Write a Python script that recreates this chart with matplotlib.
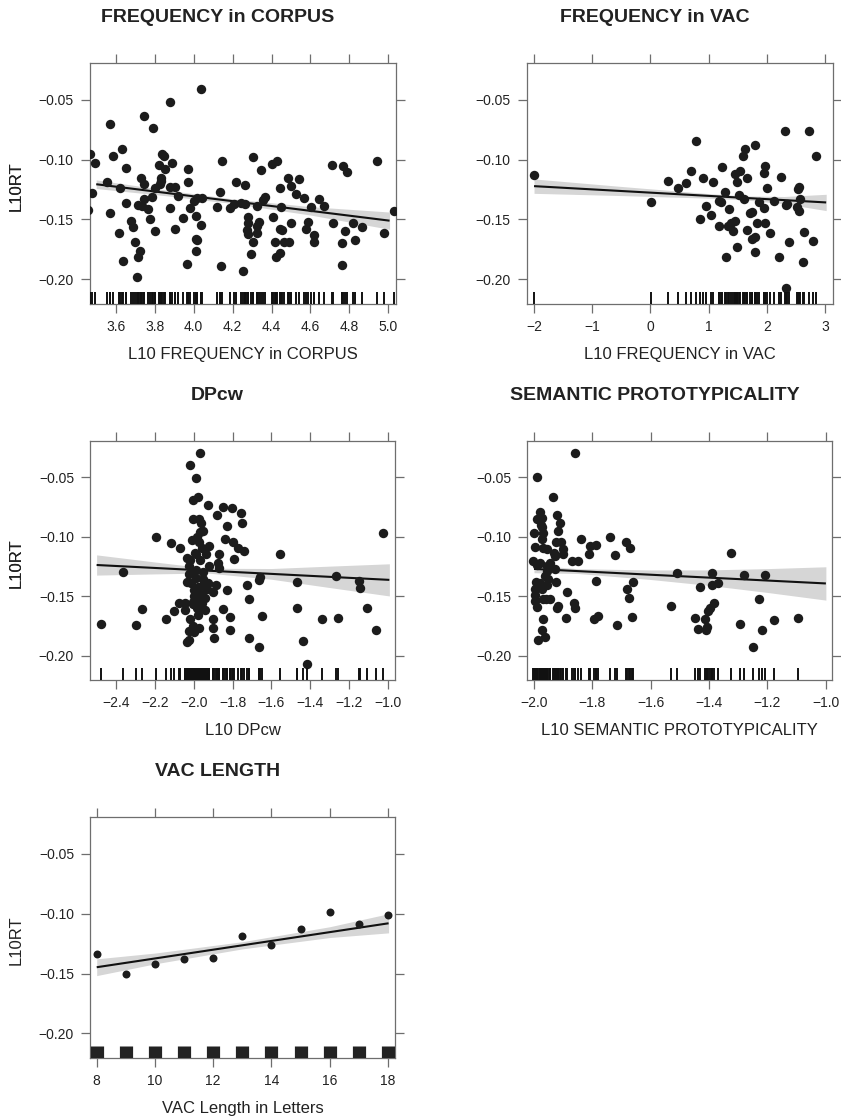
import matplotlib
matplotlib.use("Agg")
import matplotlib.pyplot as plt
import numpy as np

plt.rcParams['font.family'] = ['Liberation Sans', 'DejaVu Sans']

# ---------------- DATA ----------------
# Panel 1: FREQUENCY in CORPUS
corpus_freq = [3.466, 3.495, 3.569, 3.588, 3.634, 3.555, 3.48, 3.458, 3.569, 3.624,
               3.651, 3.651, 3.617, 3.637, 3.677, 3.689, 3.698, 3.724, 3.717, 3.708,
               3.744, 3.792, 3.729, 3.744, 3.717, 3.744, 3.737, 3.766, 3.775, 3.784,
               3.802, 3.802, 3.823, 3.84, 3.85, 3.851, 3.83, 3.831, 3.826, 3.878,
               3.881, 3.905, 3.891, 3.921, 3.879, 3.903, 3.943, 3.969, 3.972, 3.98,
               3.967, 4.003, 4.015, 4.037, 4.044, 4.012, 4.036, 4.012, 4.019, 4.012,
               4.121, 4.137, 4.145, 4.14, 4.187, 4.207, 4.218, 4.252, 4.245, 4.266,
               4.264, 4.281, 4.278, 4.273, 4.281, 4.304, 4.293, 4.307, 4.324, 4.327,
               4.324, 4.338, 4.345, 4.355, 4.367, 4.403, 4.427, 4.408, 4.418, 4.424,
               4.444, 4.444, 4.448, 4.444, 4.454, 4.465, 4.492, 4.487, 4.499, 4.499,
               4.526, 4.543, 4.567, 4.576, 4.588, 4.605, 4.619, 4.619, 4.643, 4.667,
               4.71, 4.765, 4.787, 4.715, 4.775, 4.763, 4.761, 4.818, 4.828, 4.862,
               4.941, 4.979, 5.031]
corpus_rt = [-0.0956, -0.1028, -0.0706, -0.0972, -0.0914, -0.1186, -0.1283, -0.142, -0.145, -0.124,
             -0.107, -0.136, -0.161, -0.185, -0.151, -0.156, -0.169, -0.176, -0.181, -0.198,
             -0.0639, -0.0736, -0.115, -0.1206, -0.138, -0.133, -0.139, -0.141, -0.150, -0.131,
             -0.160, -0.124, -0.1044, -0.0956, -0.097, -0.108, -0.1158, -0.118, -0.120, -0.052,
             -0.1228, -0.1228, -0.1033, -0.1306, -0.1406, -0.158, -0.149, -0.108, -0.1186, -0.1406,
             -0.187, -0.1344, -0.1325, -0.0408, -0.1325, -0.1467, -0.155, -0.166, -0.1675, -0.176,
             -0.140, -0.127, -0.101, -0.189, -0.1406, -0.137, -0.119, -0.193, -0.136, -0.121,
             -0.1375, -0.148, -0.153, -0.159, -0.162, -0.169, -0.179, -0.0978, -0.1389, -0.1556,
             -0.161, -0.152, -0.109, -0.134, -0.131, -0.104, -0.101, -0.148, -0.169, -0.181,
             -0.178, -0.124, -0.1394, -0.158, -0.159, -0.169, -0.169, -0.115, -0.122, -0.153,
             -0.129, -0.116, -0.132, -0.158, -0.152, -0.1394, -0.163, -0.169, -0.133, -0.139,
             -0.1047, -0.1056, -0.110, -0.1528, -0.160, -0.170, -0.188, -0.1528, -0.167, -0.156,
             -0.101, -0.1617, -0.143]

# Panel 2: FREQUENCY in VAC
vac_freq = [-2.0, 0.01, 0.308, 0.48, 0.612, 0.703, 0.784, 0.852, 0.904, 0.955,
            1.041, 1.081, 1.173, 1.207, 1.179, 1.23, 1.282, 1.305, 1.345, 1.333,
            1.379, 1.413, 1.448, 1.459, 1.493, 1.545, 1.517, 1.482, 1.597, 1.62,
            1.614, 1.666, 1.654, 1.711, 1.74, 1.752, 1.792, 1.797, 1.803, 1.837,
            1.872, 1.952, 1.975, 1.958, 1.975, 1.998, 2.055, 2.13, 2.204, 2.238,
            2.318, 2.33, 2.353, 2.33, 2.387, 2.513, 2.536, 2.547, 2.559, 2.57,
            2.616, 2.639, 2.719, 2.788, 2.845]
vac_rt = [-0.1133, -0.1353, -0.1178, -0.1236, -0.1194, -0.1094, -0.0844, -0.15, -0.1153, -0.1389,
          -0.1461, -0.1186, -0.1342, -0.1356, -0.1553, -0.1064, -0.1272, -0.1811, -0.1411, -0.1553,
          -0.1533, -0.1597, -0.1514, -0.1117, -0.1186, -0.1094, -0.13, -0.1728, -0.0972, -0.0914,
          -0.1328, -0.1158, -0.1589, -0.145, -0.1661, -0.1436, -0.1647, -0.0883, -0.1769, -0.1528,
          -0.1353, -0.1111, -0.1056, -0.1406, -0.1528, -0.1239, -0.1611, -0.1342, -0.1811, -0.1147,
          -0.0761, -0.1381, -0.1367, -0.2072, -0.1686, -0.1394, -0.1242, -0.1431, -0.1228, -0.1328,
          -0.1856, -0.1606, -0.0764, -0.1681, -0.0972]

# Panel 3: DPcw
dpcw = [-2.475, -2.362, -2.299, -2.268, -2.194, -2.143, -2.119, -2.102, -2.074, -2.069,
        -2.043, -2.047, -2.036, -2.033, -2.033, -2.026, -2.026, -2.019, -2.019, -2.023,
        -2.023, -2.016, -2.011, -2.005, -2.002, -1.999, -2.002, -2.002, -1.999, -1.993,
        -1.988, -1.988, -1.981, -1.976, -1.974, -1.981, -1.976, -1.974, -1.967, -1.964,
        -1.959, -1.954, -1.951, -1.954, -1.94, -1.94, -1.937, -1.93, -1.927, -1.923,
        -1.92, -1.925, -1.902, -1.899, -1.899, -1.895, -1.887, -1.881, -1.873, -1.868,
        -1.868, -1.851, -1.847, -1.839, -1.83, -1.83, -1.813, -1.813, -1.805, -1.796,
        -1.793, -1.772, -1.758, -1.75, -1.74, -1.728, -1.714, -1.714, -1.666, -1.666,
        -1.659, -1.647, -1.556, -1.467, -1.467, -1.439, -1.419, -1.342, -1.268, -1.259,
        -1.151, -1.144, -1.11, -1.062, -1.028,
        -2.02, -2.01, -1.99, -1.98, -1.97, -1.96, -1.99, -1.975, -2.0, -1.985,
        -1.965, -1.95, -1.96, -2.005, -1.97]
dpcw_rt = [-0.1733, -0.130, -0.1742, -0.161, -0.1008, -0.1694, -0.1056, -0.1628, -0.1556, -0.1094,
           -0.1556, -0.1617, -0.118, -0.1383, -0.1889, -0.1867, -0.1792, -0.1689, -0.0403, -0.125,
           -0.1317, -0.1389, -0.1028, -0.085, -0.0694, -0.15, -0.1569, -0.175, -0.18, -0.1139,
           -0.1278, -0.0506, -0.1, -0.0672, -0.085, -0.1528, -0.1661, -0.1767, -0.0297, -0.0883,
           -0.1556, -0.1356, -0.0956, -0.1403, -0.1517, -0.1619, -0.1144, -0.1444, -0.0733, -0.1083,
           -0.1244, -0.1389, -0.1467, -0.1694, -0.1772, -0.185, -0.1403, -0.0822, -0.1222, -0.1144,
           -0.1267, -0.1611, -0.0756, -0.1019, -0.0911, -0.1453, -0.1678, -0.1789, -0.0761, -0.105,
           -0.1192, -0.11, -0.08, -0.0883, -0.1122, -0.1406, -0.1528, -0.1856, -0.1361, -0.1928,
           -0.1339, -0.1667, -0.1144, -0.1378, -0.1603, -0.1875, -0.2072, -0.1694, -0.1328, -0.1683,
           -0.1372, -0.1431, -0.1597, -0.1786, -0.0969,
           -0.120, -0.130, -0.135, -0.142, -0.120, -0.110, -0.115, -0.105, -0.145, -0.160,
           -0.148, -0.130, -0.160, -0.155, -0.096]

# Panel 4: SEMANTIC PROTOTYPICALITY
proto = [-1.859, -1.989, -1.934, -1.979, -1.991, -1.974, -1.977, -1.974, -1.92, -1.911,
         -1.919, -1.999, -1.968, -1.974, -1.925, -1.906, -1.998, -1.968, -1.957, -1.902,
         -1.931, -1.902, -1.927, -2.002, -1.979, -1.991, -1.945, -1.954, -1.927, -1.957,
         -1.87, -1.848, -1.84, -1.813, -1.808, -1.786, -1.738, -1.723, -1.686, -1.671,
         -1.993, -1.995, -1.998, -1.998, -1.991, -1.979, -1.974, -1.97, -1.962, -1.957,
         -1.951, -1.959, -1.945, -1.968, -1.974, -1.962, -1.987, -1.925, -1.92, -1.917,
         -1.891, -1.887, -1.862, -1.859, -1.787, -1.794, -1.779, -1.717, -1.682, -1.673,
         -1.665, -1.659, -1.531, -1.509, -1.447, -1.437, -1.431, -1.414, -1.41, -1.408,
         -1.402, -1.397, -1.391, -1.39, -1.383, -1.369, -1.326, -1.294, -1.28, -1.25,
         -1.227, -1.218, -1.209, -1.176, -1.093]
proto_rt = [-0.0297, -0.05, -0.0667, -0.0797, -0.0856, -0.0847, -0.0903, -0.0922, -0.0819, -0.0883,
            -0.0956, -0.0967, -0.0967, -0.1017, -0.105, -0.1044, -0.1089, -0.11, -0.1106, -0.1106,
            -0.1139, -0.1144, -0.1167, -0.1208, -0.1222, -0.1236, -0.1222, -0.1244, -0.1269, -0.1289,
            -0.1203, -0.1208, -0.1022, -0.115, -0.1083, -0.1069, -0.1008, -0.1156, -0.105, -0.1094,
            -0.1378, -0.1444, -0.1489, -0.1544, -0.1594, -0.1389, -0.1444, -0.1522, -0.1333, -0.1406,
            -0.1356, -0.1522, -0.1522, -0.1689, -0.1783, -0.1844, -0.1872, -0.1383, -0.16, -0.1583,
            -0.1686, -0.1464, -0.1556, -0.16, -0.1375, -0.1694, -0.1667, -0.1739, -0.1444, -0.1514,
            -0.1675, -0.1383, -0.1581, -0.1303, -0.1681, -0.1775, -0.1425, -0.1694, -0.1789, -0.1756,
            -0.1625, -0.1597, -0.1403, -0.1303, -0.1561, -0.1394, -0.1139, -0.1733, -0.1325, -0.1931,
            -0.1528, -0.1786, -0.1319, -0.1697, -0.1686]

# Panel 5: VAC LENGTH
vac_len = [8, 9, 10, 11, 12, 13, 14, 15, 16, 17, 18]
vac_len_rt = [-0.1333, -0.1506, -0.1417, -0.138, -0.1372, -0.1186, -0.1264, -0.1125, -0.0989, -0.1086, -0.1014]

# Fitted effect lines (endpoints) and confidence band half-widths
fit1_x, fit1_y = [3.5, 5.006], [-0.1206, -0.151]
band1_x, band1_h = [3.5, 3.85, 4.2, 4.6, 5.006], [0.0036, 0.0024, 0.0019, 0.0035, 0.0072]
fit2_x, fit2_y = [-2.0, 3.02], [-0.1222, -0.1358]
band2_x, band2_h = [-2.0, -0.5, 1.0, 1.6, 2.3, 3.02], [0.0060, 0.0038, 0.0019, 0.0016, 0.0030, 0.0068]
fit3_x, fit3_y = [-2.5, -0.993], [-0.1239, -0.1364]
band3_x, band3_h = [-2.5, -2.2, -1.93, -1.6, -1.3, -0.993], [0.0085, 0.0050, 0.0020, 0.0045, 0.0090, 0.0135]
fit4_x, fit4_y = [-2.0, -0.999], [-0.1272, -0.1394]
band4_x, band4_h = [-2.0, -1.85, -1.6, -1.4, -1.2, -0.999], [0.0032, 0.0020, 0.0040, 0.0065, 0.0100, 0.0140]
fit5_x, fit5_y = [8, 18.02], [-0.1447, -0.108]
band5_x, band5_h = [8, 10, 13, 16, 18.02], [0.0070, 0.0045, 0.0030, 0.0045, 0.0080]

titles = ["FREQUENCY in CORPUS", "FREQUENCY in VAC", "DPcw",
          "SEMANTIC PROTOTYPICALITY", "VAC LENGTH"]
xlabels = ["L10 FREQUENCY in CORPUS", "L10 FREQUENCY in VAC", "L10 DPcw",
           "L10 SEMANTIC PROTOTYPICALITY", "VAC Length in Letters"]
xticks_list = [[3.6, 3.8, 4.0, 4.2, 4.4, 4.6, 4.8, 5.0],
               [-2, -1, 0, 1, 2, 3],
               [-2.4, -2.2, -2.0, -1.8, -1.6, -1.4, -1.2, -1.0],
               [-2.0, -1.8, -1.6, -1.4, -1.2, -1.0],
               [8, 10, 12, 14, 16, 18]]
yticks = [-0.20, -0.15, -0.10, -0.05]
ylabel = "L10RT"

# ---------------- LAYOUT ----------------
W, H = 841, 1118
fig = plt.figure(figsize=(W / 100, H / 100), dpi=100)
fig.patch.set_facecolor('white')

# (left, top, right, bottom) in pixels
boxes = [(89.6, 63, 396, 304), (526.7, 63, 832.7, 304),
         (90, 440.7, 395, 680), (527.3, 440.7, 832.3, 680),
         (90, 817.3, 395, 1058)]
xlims = [(3.466, 5.039), (-2.126, 3.132), (-2.534, -0.964), (-2.023, -0.977), (7.77, 18.24)]
ylim = (-0.2205, -0.0195)

data = [(corpus_freq, corpus_rt, fit1_x, fit1_y, band1_x, band1_h),
        (vac_freq, vac_rt, fit2_x, fit2_y, band2_x, band2_h),
        (dpcw, dpcw_rt, fit3_x, fit3_y, band3_x, band3_h),
        (proto, proto_rt, fit4_x, fit4_y, band4_x, band4_h),
        (vac_len, vac_len_rt, fit5_x, fit5_y, band5_x, band5_h)]

frame_col = '#6e6e6e'
pt_col = '#1c1c1c'
txt_col = '#222222'

for i, (l, t, r, b) in enumerate(boxes):
    ax = fig.add_axes([l / W, 1 - b / H, (r - l) / W, (b - t) / H])
    xs, ys, fx, fy, bx, bh = data[i]
    # confidence band
    bx_arr = np.array(bx)
    by = np.interp(bx_arr, fx, fy)
    ax.fill_between(bx_arr, by - np.array(bh), by + np.array(bh),
                    color='#d6d6d6', lw=0, zorder=1)
    ax.plot(fx, fy, color='#111111', lw=1.5, zorder=2, solid_capstyle='butt')
    ax.scatter(xs, ys, s=(33 if i == 4 else 46), color=pt_col, lw=0, zorder=3)
    # rug
    if i == 4:
        ax.vlines(xs, 0, 0.048, transform=ax.get_xaxis_transform(),
                  color='#222222', lw=9.5, zorder=4)
    else:
        ax.vlines(xs, 0, 0.05, transform=ax.get_xaxis_transform(),
                  color='#111111', lw=1.4, zorder=4)

    ax.set_xlim(*xlims[i])
    ax.set_ylim(*ylim)
    ax.set_xticks(xticks_list[i])
    ax.set_yticks(yticks)
    for sp in ax.spines.values():
        sp.set_color(frame_col)
        sp.set_linewidth(0.9)
    ax.tick_params(axis='both', which='major', direction='out', length=6.5,
                   width=0.9, color=frame_col, labelsize=10, labelcolor=txt_col,
                   top=True, right=True, labeltop=False, labelright=False, pad=5)
    ax.set_xlabel(xlabels[i], fontsize=12, color=txt_col)
    ax.xaxis.set_label_coords(0.5, -0.178)
    ax.set_ylabel(ylabel, fontsize=12, color=txt_col)
    ax.yaxis.set_label_coords((24 - l) / (r - l), 0.49)
    # title centred over the panel (shifted left by ~25 px)
    cx = ((l + r) / 2 - 25) / W
    fig.text(cx, 1 - (t - 45.5) / H, titles[i], fontsize=14, fontweight='bold',
             color=txt_col, ha='center', va='center')

fig.savefig("out.png", dpi=100)
